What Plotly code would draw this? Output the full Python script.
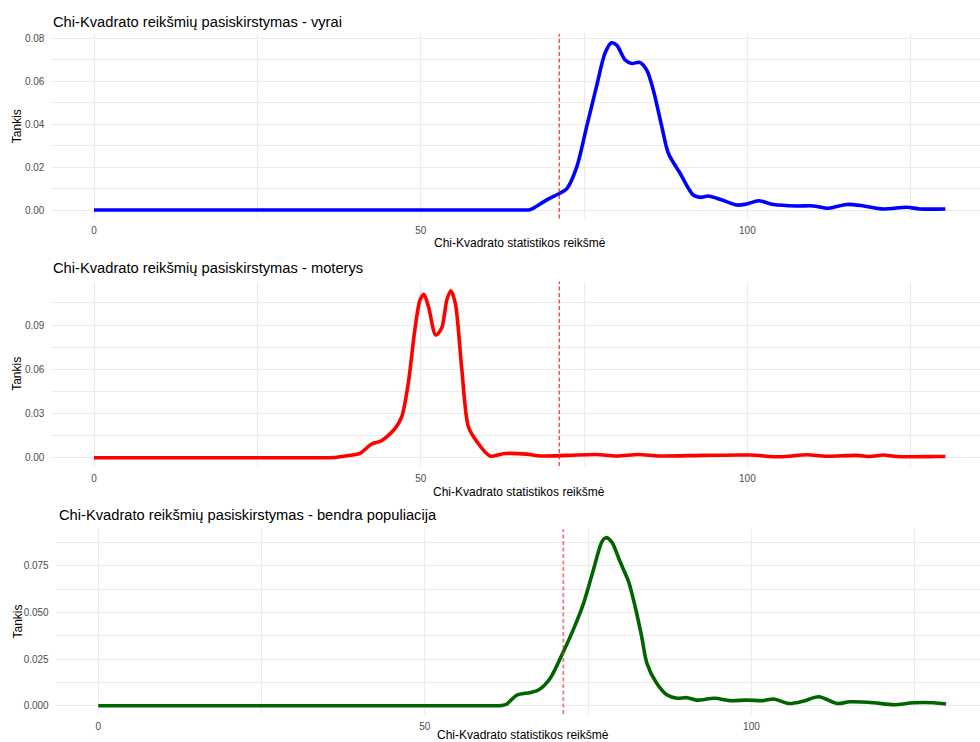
import plotly.graph_objects as go

# ---- data (density estimates) ----
men_x = [0, 30, 60, 65.5, 66.7, 67.2, 69.3, 71.3, 72.4, 73.9, 75.4, 76.9, 78.2, 79.2, 80.0, 81.3, 82.3, 83.5,
         84.6, 85.6, 86.9, 87.9, 89.7, 91.7, 92.8, 94.0, 95.8, 98.4, 99.9, 101.7, 104.0, 107.6,
         110.1, 112.4, 115.2, 117.8, 120.8, 124.4, 126.4, 130.3]
men_y = [0, 0, 0, 0, 0.0001, 0.0008, 0.0047, 0.0078, 0.0101, 0.0202, 0.0388, 0.0574, 0.0729, 0.0778, 0.0767,
         0.0698, 0.0682, 0.0687, 0.0651, 0.0558, 0.0388, 0.0264, 0.0171, 0.0070, 0.0059, 0.0065,
         0.0050, 0.0023, 0.0028, 0.0043, 0.0026, 0.0019, 0.0019, 0.0008, 0.0026, 0.0019, 0.0005,
         0.0013, 0.0005, 0.0005]

women_x = [0, 20, 34, 35.8, 36.6, 38.5, 40.7, 42.5, 44.0, 46.1, 47.1, 48.1, 49.1, 49.9, 50.5, 51.2, 52.3, 53.2,
           54.0, 54.6, 55.3, 56.3, 57.3, 58.6, 60.6, 62.9, 66.2, 68.3, 72.4, 76.9, 80.0, 83.3, 86.6,
           93.2, 100.4, 105.0, 109.1, 112.1, 116.7, 118.8, 120.8, 122.9, 129.2, 130.3]
women_y = [0, 0, 0, 0, 0.0001, 0.0012, 0.0030, 0.0093, 0.0115, 0.0199, 0.0278, 0.0505, 0.0866, 0.1070, 0.1108,
           0.1024, 0.0832, 0.0878, 0.1070, 0.1133, 0.1047, 0.0595, 0.0210, 0.0109, 0.0012, 0.0028,
           0.0024, 0.0012, 0.0016, 0.0022, 0.0012, 0.0022, 0.0012, 0.0016, 0.0018, 0.0006, 0.0020,
           0.0010, 0.0016, 0.0008, 0.0018, 0.0008, 0.0008, 0.0008]

all_x = [0, 30, 58, 60.8, 61.8, 62.5, 64.1, 66.1, 67.4, 69.2, 71.1, 72.7, 74.3, 75.8, 77.1, 77.7, 78.6, 79.9,
         81.2, 82.2, 83.2, 84.0, 85.5, 87.1, 88.6, 90.1, 91.6, 94.4, 96.7, 99.3, 101.8, 103.4, 105.7,
         108.0, 110.3, 113.1, 115.1, 118.7, 121.8, 124.8, 127.9, 129.8]
all_y = [0, 0, 0, 0, 0.0001, 0.0008, 0.0057, 0.0070, 0.0084, 0.0147, 0.0281, 0.0405, 0.0548, 0.0727, 0.0878,
         0.0900, 0.0878, 0.0771, 0.0664, 0.0530, 0.0370, 0.0227, 0.0120, 0.0057, 0.0040, 0.0043,
         0.0030, 0.0040, 0.0027, 0.0030, 0.0027, 0.0036, 0.0012, 0.0025, 0.0048, 0.0012, 0.0021,
         0.0016, 0.0005, 0.0016, 0.0016, 0.0009]

critical_value = 71.2

titles = ["Chi-Kvadrato reikšmių pasiskirstymas - vyrai",
          "Chi-Kvadrato reikšmių pasiskirstymas - moterys",
          "Chi-Kvadrato reikšmių pasiskirstymas - bendra populiacija"]
x_label = "Chi-Kvadrato statistikos reikšmė"
y_label = "Tankis"

x_ticks = [0, 50, 100]
x_minor = [25, 75, 125]
y_ticks = [[0, 0.02, 0.04, 0.06, 0.08], [0, 0.03, 0.06, 0.09], [0, 0.025, 0.05, 0.075]]
y_minor = [[0.01, 0.03, 0.05, 0.07], [0.015, 0.045, 0.075, 0.105], [0.0125, 0.0375, 0.0625, 0.0875]]
y_fmt = [".2f", ".2f", ".3f"]

# ---- layout geometry (pixels) ----
W, H = 980, 742
panels = [
    dict(left=51.4, top=34.0, bottom=218.4, xr=[-6.52, 135.6], yr=[-0.0039, 0.0819]),
    dict(left=51.4, top=281.6, bottom=466.1, xr=[-6.52, 135.6], yr=[-0.0057, 0.1195]),
    dict(left=55.7, top=528.9, bottom=714.1, xr=[-6.52, 135.0], yr=[-0.0045, 0.0947]),
]
colors = ["#0000FF", "#FF0000", "#006400"]
series = [(men_x, men_y), (women_x, women_y), (all_x, all_y)]
title_pos = [(51, 21.7), (51, 268.3), (56.7, 515)]
xlab_pos = [(520, 243), (519, 491.7), (523, 734.5)]
vline_style = [dict(color="#EE1C24", width=1.1), dict(color="#EE1C24", width=1.1),
               dict(color="rgba(220,60,70,0.65)", width=1.8)]

FONT = "Liberation Sans, Arial, sans-serif"
GRID = "#EBEBEB"

fig = go.Figure()
layout = dict(width=W, height=H, margin=dict(l=0, r=0, t=0, b=0),
              paper_bgcolor="white", plot_bgcolor="white", showlegend=False,
              font=dict(family=FONT))
annotations = []
shapes = []
for i, p in enumerate(panels):
    n = "" if i == 0 else str(i + 1)
    xs, ys = series[i]
    fig.add_trace(go.Scatter(x=xs, y=ys, mode="lines", xaxis="x" + n, yaxis="y" + n,
                             line=dict(color=colors[i], width=3.6, shape="spline", smoothing=0.8),
                             hoverinfo="skip"))
    layout["xaxis" + n] = dict(
        domain=[p["left"] / W, 1.0], range=p["xr"], anchor="y" + n,
        tickvals=x_ticks, ticktext=[str(v) for v in x_ticks],
        showgrid=True, gridcolor=GRID, gridwidth=1, zeroline=False, showline=False,
        ticks="outside", ticklen=3, tickcolor="rgba(0,0,0,0)",
        tickfont=dict(size=10, color="#4D4D4D", family=FONT),
        minor=dict(tickvals=x_minor, showgrid=True, gridcolor=GRID, gridwidth=0.8, ticks=""),
    )
    layout["yaxis" + n] = dict(
        domain=[1 - p["bottom"] / H, 1 - p["top"] / H], range=p["yr"], anchor="x" + n,
        tickvals=y_ticks[i], tickformat=y_fmt[i],
        showgrid=True, gridcolor=GRID, gridwidth=1, zeroline=False, showline=False,
        ticks="outside", ticklen=4, tickcolor="rgba(0,0,0,0)",
        tickfont=dict(size=10, color="#4D4D4D", family=FONT),
        minor=dict(tickvals=y_minor[i], showgrid=True, gridcolor=GRID, gridwidth=0.8, ticks=""),
    )
    shapes.append(dict(type="line", xref="x" + n, yref="y" + n + " domain",
                       x0=critical_value, x1=critical_value, y0=0, y1=1,
                       line=dict(dash="4px,2.5px", **vline_style[i])))
    tx, ty = title_pos[i]
    annotations.append(dict(text=titles[i], xref="paper", yref="paper", x=tx / W, y=1 - ty / H,
                            xanchor="left", yanchor="middle", showarrow=False,
                            font=dict(size=14.7, color="black", family=FONT)))
    lx, ly = xlab_pos[i]
    annotations.append(dict(text=x_label, xref="paper", yref="paper", x=lx / W, y=1 - ly / H,
                            xanchor="center", yanchor="middle", showarrow=False,
                            font=dict(size=12, color="black", family=FONT)))
    cy = (p["top"] + p["bottom"]) / 2
    annotations.append(dict(text=y_label, xref="paper", yref="paper", x=17 / W, y=1 - cy / H,
                            xanchor="center", yanchor="middle", showarrow=False, textangle=-90,
                            font=dict(size=12, color="black", family=FONT)))

layout["annotations"] = annotations
layout["shapes"] = shapes
fig.update_layout(**layout)
fig.write_html("out.html")
